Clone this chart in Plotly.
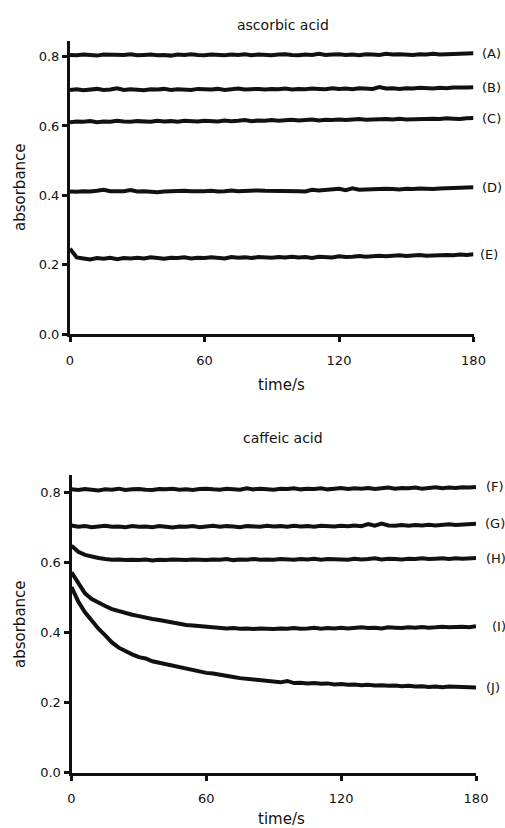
import plotly.graph_objects as go

# ---------------- data ----------------
time_s = list(range(0, 181, 3))  # sampling times (s)

# ascorbic acid
a_vals = [0.805,0.804,0.806,0.805,0.803,0.806,0.805,0.804,0.805,0.807,
          0.804,0.805,0.806,0.804,0.805,0.803,0.806,0.805,0.807,0.805,
          0.804,0.806,0.805,0.804,0.806,0.805,0.807,0.804,0.806,0.805,
          0.804,0.806,0.807,0.805,0.804,0.806,0.805,0.808,0.805,0.806,
          0.807,0.805,0.806,0.804,0.807,0.806,0.805,0.808,0.806,0.807,
          0.806,0.805,0.807,0.806,0.808,0.806,0.807,0.808,0.807,0.808,
          0.810]
b_vals = [0.704,0.706,0.703,0.705,0.707,0.704,0.705,0.709,0.704,0.706,
          0.705,0.703,0.706,0.705,0.707,0.704,0.706,0.705,0.704,0.707,
          0.706,0.705,0.707,0.704,0.706,0.708,0.705,0.706,0.707,0.705,
          0.707,0.706,0.708,0.705,0.707,0.706,0.708,0.707,0.706,0.709,
          0.707,0.708,0.706,0.709,0.708,0.707,0.712,0.708,0.709,0.707,
          0.709,0.708,0.710,0.709,0.708,0.710,0.709,0.711,0.710,0.711,
          0.712]
c_vals = [0.611,0.613,0.612,0.614,0.611,0.613,0.612,0.615,0.613,0.612,
          0.614,0.613,0.612,0.615,0.613,0.614,0.612,0.615,0.614,0.613,
          0.615,0.614,0.613,0.616,0.614,0.615,0.617,0.614,0.616,0.615,
          0.617,0.615,0.616,0.618,0.616,0.617,0.619,0.616,0.618,0.617,
          0.619,0.617,0.618,0.620,0.618,0.619,0.618,0.620,0.619,0.621,
          0.619,0.620,0.621,0.620,0.621,0.620,0.622,0.621,0.620,0.622,
          0.623]
d_vals = [0.411,0.410,0.412,0.411,0.413,0.416,0.412,0.411,0.412,0.415,
          0.411,0.412,0.410,0.409,0.411,0.412,0.411,0.413,0.412,0.411,
          0.412,0.413,0.411,0.412,0.414,0.412,0.413,0.412,0.414,0.413,
          0.413,0.412,0.414,0.413,0.412,0.411,0.416,0.414,0.415,0.418,
          0.419,0.415,0.420,0.416,0.417,0.418,0.417,0.419,0.418,0.417,
          0.419,0.418,0.420,0.419,0.418,0.420,0.421,0.420,0.421,0.422,
          0.423]
e_vals = [0.246,0.221,0.218,0.215,0.219,0.217,0.220,0.216,0.219,0.218,
          0.220,0.218,0.221,0.219,0.217,0.220,0.219,0.221,0.218,0.220,
          0.219,0.221,0.220,0.218,0.222,0.220,0.221,0.219,0.222,0.221,
          0.220,0.222,0.221,0.223,0.221,0.222,0.219,0.223,0.222,0.221,
          0.224,0.222,0.223,0.225,0.223,0.224,0.226,0.224,0.225,0.227,
          0.225,0.226,0.228,0.226,0.227,0.229,0.228,0.227,0.229,0.228,
          0.230]

# caffeic acid
f_vals = [0.809,0.807,0.810,0.808,0.806,0.809,0.808,0.811,0.807,0.809,
          0.810,0.808,0.807,0.810,0.809,0.811,0.808,0.809,0.807,0.810,
          0.811,0.809,0.808,0.811,0.810,0.808,0.812,0.809,0.811,0.810,
          0.808,0.811,0.810,0.812,0.809,0.811,0.810,0.812,0.809,0.811,
          0.813,0.810,0.812,0.811,0.813,0.810,0.812,0.814,0.811,0.813,
          0.812,0.814,0.811,0.813,0.815,0.812,0.814,0.813,0.815,0.814,
          0.816]
g_vals = [0.706,0.702,0.704,0.701,0.703,0.705,0.702,0.703,0.701,0.704,
          0.702,0.703,0.701,0.704,0.702,0.700,0.703,0.702,0.704,0.701,
          0.703,0.705,0.702,0.704,0.703,0.701,0.704,0.703,0.702,0.705,
          0.703,0.704,0.702,0.705,0.703,0.704,0.702,0.705,0.704,0.703,
          0.705,0.704,0.706,0.704,0.710,0.705,0.711,0.706,0.705,0.707,
          0.705,0.707,0.706,0.708,0.706,0.707,0.709,0.707,0.708,0.710,
          0.711]
h_vals = [0.648,0.631,0.622,0.617,0.613,0.610,0.608,0.609,0.607,0.608,
          0.607,0.609,0.606,0.608,0.607,0.609,0.608,0.607,0.609,0.608,
          0.607,0.609,0.608,0.610,0.607,0.609,0.608,0.610,0.608,0.609,
          0.608,0.610,0.609,0.608,0.610,0.609,0.611,0.608,0.610,0.609,
          0.610,0.608,0.611,0.609,0.610,0.612,0.609,0.611,0.610,0.609,
          0.611,0.610,0.612,0.610,0.611,0.612,0.610,0.612,0.611,0.612,
          0.613]
i_vals = [0.572,0.541,0.512,0.496,0.485,0.476,0.467,0.461,0.456,0.451,
          0.447,0.442,0.439,0.436,0.432,0.429,0.425,0.422,0.420,0.418,
          0.417,0.415,0.414,0.412,0.413,0.411,0.412,0.410,0.412,0.411,
          0.410,0.412,0.411,0.413,0.411,0.412,0.414,0.411,0.413,0.412,
          0.414,0.412,0.413,0.415,0.413,0.414,0.412,0.415,0.414,0.413,
          0.415,0.414,0.416,0.414,0.415,0.417,0.415,0.416,0.417,0.415,
          0.418]
j_vals = [0.530,0.489,0.458,0.434,0.411,0.392,0.372,0.357,0.346,0.338,
          0.330,0.326,0.318,0.314,0.308,0.305,0.300,0.297,0.292,0.289,
          0.285,0.283,0.279,0.277,0.273,0.270,0.268,0.265,0.264,0.261,
          0.260,0.258,0.262,0.256,0.257,0.255,0.256,0.254,0.255,0.252,
          0.253,0.251,0.252,0.250,0.251,0.249,0.250,0.248,0.249,0.247,
          0.248,0.246,0.247,0.245,0.246,0.244,0.246,0.245,0.243,0.244,
          0.243]

top_labels = ["(A)", "(B)", "(C)", "(D)", "(E)"]
bottom_labels = ["(F)", "(G)", "(H)", "(I)", "(J)"]
top_series = [a_vals, b_vals, c_vals, d_vals, e_vals]
bottom_series = [f_vals, g_vals, h_vals, i_vals, j_vals]

x_ticks = [0, 60, 120, 180]
y_ticks = [0.0, 0.2, 0.4, 0.6, 0.8]

# ---------------- figure ----------------
W, H = 505, 828
FONT = "DejaVu Sans, Liberation Sans, Arial, sans-serif"
INK = "#111111"

def px(x):
    return x / W

def py(y):
    return 1 - y / H

fig = go.Figure()

for vals, lab in zip(top_series, top_labels):
    fig.add_trace(go.Scatter(x=time_s, y=vals, mode="lines", xaxis="x", yaxis="y",
                             line=dict(color=INK, width=4), showlegend=False, name=lab,
                             hoverinfo="skip"))
for vals, lab in zip(bottom_series, bottom_labels):
    fig.add_trace(go.Scatter(x=time_s, y=vals, mode="lines", xaxis="x2", yaxis="y2",
                             line=dict(color=INK, width=4), showlegend=False, name=lab,
                             hoverinfo="skip"))

annotations = []
label_shift = {"(A)": 6, "(B)": 6, "(C)": 6, "(D)": 6, "(E)": 4,
               "(F)": 8, "(G)": 7, "(H)": 8, "(I)": 14, "(J)": 8}
for vals, lab in zip(top_series, top_labels):
    annotations.append(dict(x=time_s[-1], y=vals[-1], xref="x", yref="y", text=lab,
                            showarrow=False, xanchor="left", yanchor="middle",
                            xshift=label_shift[lab], font=dict(size=13, color=INK, family=FONT)))
for vals, lab in zip(bottom_series, bottom_labels):
    annotations.append(dict(x=time_s[-1], y=vals[-1], xref="x2", yref="y2", text=lab,
                            showarrow=False, xanchor="left", yanchor="middle",
                            xshift=label_shift[lab], font=dict(size=13, color=INK, family=FONT)))

# titles and axis titles (positions in page pixels)
for text, x, y, ang, size in [("ascorbic acid", 283, 25, 0, 14),
                              ("caffeic acid", 283, 438, 0, 14),
                              ("time/s", 281, 385, 0, 15),
                              ("time/s", 281, 819, 0, 15),
                              ("absorbance", 20, 187, -90, 15),
                              ("absorbance", 20, 624, -90, 15)]:
    annotations.append(dict(x=px(x), y=py(y), xref="paper", yref="paper", text=text,
                            showarrow=False, xanchor="center", yanchor="middle",
                            textangle=ang, font=dict(size=size, color=INK, family=FONT)))

axis_common = dict(showline=True, linecolor=INK, linewidth=3, ticks="outside",
                   ticklen=5, tickwidth=2.5, tickcolor=INK, showgrid=False,
                   zeroline=False, automargin=False,
                   tickfont=dict(size=13, color=INK, family=FONT))

fig.update_layout(
    width=W, height=H,
    margin=dict(l=0, r=0, t=0, b=0, pad=0, autoexpand=False),
    paper_bgcolor="white", plot_bgcolor="white",
    showlegend=False, hovermode=False,
    annotations=annotations,
    xaxis=dict(domain=[px(70), px(473.5)], range=[0, 180], tickvals=x_ticks,
               anchor="y", ticklabelstandoff=7, **axis_common),
    yaxis=dict(domain=[py(334), py(40.7)], range=[0, 0.846], tickvals=y_ticks,
               tickformat=".1f", anchor="x", **axis_common),
    xaxis2=dict(domain=[px(71.5), px(476)], range=[0, 180], tickvals=x_ticks,
                anchor="y2", ticklabelstandoff=7, **axis_common),
    yaxis2=dict(domain=[py(772.7), py(475)], range=[0, 0.85], tickvals=y_ticks,
                tickformat=".1f", anchor="x2", **axis_common),
)

# remove the default page margin so the 505x828 figure fills the window exactly
fig.write_html("out.html", config={"displayModeBar": False},
               post_script="document.body.style.margin='0px';"
                           "document.documentElement.style.overflow='hidden';")
